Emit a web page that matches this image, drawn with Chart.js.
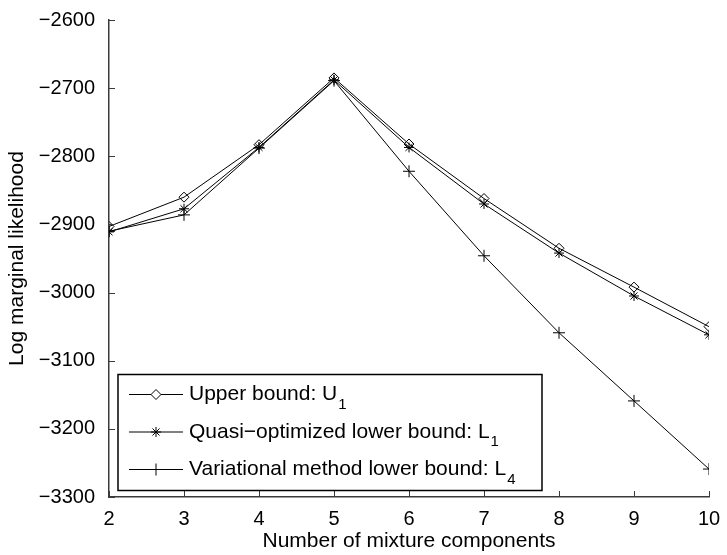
<!DOCTYPE html>
<html>
<head>
<meta charset="utf-8">
<script src="https://cdn.jsdelivr.net/npm/chart.js@4/dist/chart.umd.min.js"></script>
<style>
  html, body { margin: 0; padding: 0; background: #fff; }
  #wrap { width: 727px; height: 555px; }
</style>
</head>
<body>
<div id="wrap"><canvas id="chart"></canvas></div>
<script>
// Data
const components = [2, 3, 4, 5, 6, 7, 8, 9, 10]
const upperBound = [-2903, -2860, -2783, -2685, -2782, -2862, -2935, -2992, -3050]
const quasiLower = [-2911, -2877, -2787, -2688, -2787, -2870, -2942, -3005, -3062]
const variationalLower = [-2910, -2886, -2788, -2689, -2822, -2946, -3059, -3159, -3259]

const seriesNames = ['Upper bound: U', 'Quasi\u2212optimized lower bound: L', 'Variational method lower bound: L']
const seriesSubs = ['1', '1', '4']
const yTicks = [-3300, -3200, -3100, -3000, -2900, -2800, -2700, -2600]
const xTicks = [2, 3, 4, 5, 6, 7, 8, 9, 10]

const FONT = "'Liberation Sans', Arial, Helvetica, sans-serif"
const AXIS_COLOR = '#3a3a3a'

const toPoints = (ys) => components.map((x, i) => ({ x: x, y: ys[i] }))

// MATLAB-style ticks pointing into the plot
const inwardTicks = {
  id: 'inwardTicks',
  afterDraw(chart) {
    const { ctx, chartArea, scales } = chart
    ctx.save()
    ctx.strokeStyle = AXIS_COLOR
    ctx.lineWidth = 1
    ctx.beginPath()
    xTicks.forEach(v => {
      const px = Math.round(scales.x.getPixelForValue(v)) + 0.5
      ctx.moveTo(px, chartArea.bottom)
      ctx.lineTo(px, chartArea.bottom - 6)
    })
    yTicks.forEach(v => {
      const py = Math.round(scales.y.getPixelForValue(v)) + 0.5
      ctx.moveTo(chartArea.left, py)
      ctx.lineTo(chartArea.left + 6, py)
    })
    ctx.stroke()
    ctx.restore()
  }
}

// boxed legend inside the plot, with subscripts
const boxLegend = {
  id: 'boxLegend',
  afterDraw(chart) {
    const { ctx, scales } = chart
    const left = scales.x.getPixelForValue(2) + 9
    const top = Math.round(scales.y.getPixelForValue(-3119)) + 0.5
    const width = 424
    const rowH = 37.5
    const height = 116
    ctx.save()
    ctx.fillStyle = '#fff'
    ctx.fillRect(left, top, width, height)
    ctx.strokeStyle = '#000'
    ctx.lineWidth = 1.5
    ctx.strokeRect(left, top, width, height)

    chart.data.datasets.forEach((ds, i) => {
      const y = top + 20 + i * rowH
      ctx.strokeStyle = '#000'
      ctx.lineWidth = 1
      ctx.beginPath()
      ctx.moveTo(left + 11, y)
      ctx.lineTo(left + 65, y)
      ctx.stroke()
      Chart.helpers.drawPoint(ctx, {
        pointStyle: ds.pointStyle,
        radius: ds.pointRadius,
        borderWidth: 1
      }, left + 38, y)

      ctx.fillStyle = '#000'
      ctx.textBaseline = 'middle'
      ctx.font = '21px ' + FONT
      ctx.fillText(seriesNames[i], left + 71, y)
      const w = ctx.measureText(seriesNames[i]).width
      ctx.font = '15px ' + FONT
      ctx.fillText(seriesSubs[i], left + 71 + w + 1, y + 10)
    })
    ctx.restore()
  }
}

const makeSet = (label, ys, style, radius) => ({
  label: label,
  data: toPoints(ys),
  borderColor: '#000',
  backgroundColor: 'rgba(0,0,0,0)',
  borderWidth: 1,
  pointStyle: style,
  pointRadius: radius,
  pointBorderColor: '#000',
  pointBackgroundColor: 'rgba(0,0,0,0)',
  pointBorderWidth: 1,
  tension: 0
})

new Chart(document.getElementById('chart'), {
  type: 'line',
  data: {
    datasets: [
      makeSet(seriesNames[0], upperBound, 'rectRot', 5),
      makeSet(seriesNames[1], quasiLower, 'star', 5),
      makeSet(seriesNames[2], variationalLower, 'cross', 6)
    ]
  },
  options: {
    responsive: true,
    maintainAspectRatio: false,
    animation: false,
    layout: { padding: { top: 20, right: 18, left: 0, bottom: 0 } },
    plugins: {
      legend: { display: false },
      tooltip: { enabled: false }
    },
    scales: {
      x: {
        type: 'linear',
        min: 2,
        max: 10,
        afterBuildTicks: (scale) => { scale.ticks = xTicks.map(v => ({ value: v })) },
        afterFit: (scale) => { scale.height = 58 },
        grid: { display: false },
        border: { display: true, color: AXIS_COLOR, width: 1.5 },
        ticks: { color: '#000', font: { family: FONT, size: 20 }, padding: 2 },
        title: {
          display: true,
          text: 'Number of mixture components',
          color: '#000',
          font: { family: FONT, size: 21 },
          padding: { top: 0, bottom: 1 }
        }
      },
      y: {
        type: 'linear',
        min: -3300,
        max: -2600,
        afterBuildTicks: (scale) => { scale.ticks = yTicks.map(v => ({ value: v })) },
        afterFit: (scale) => { scale.width = 109 },
        grid: { display: false },
        border: { display: true, color: AXIS_COLOR, width: 1.5 },
        ticks: {
          color: '#000',
          font: { family: FONT, size: 20 },
          padding: 6,
          callback: (v) => '\u2212' + Math.abs(v)
        },
        title: {
          display: true,
          text: 'Log marginal likelihood',
          color: '#000',
          font: { family: FONT, size: 21 },
          padding: { top: 5, bottom: 0 }
        }
      }
    }
  },
  plugins: [inwardTicks, boxLegend]
})
</script>
</body>
</html>
